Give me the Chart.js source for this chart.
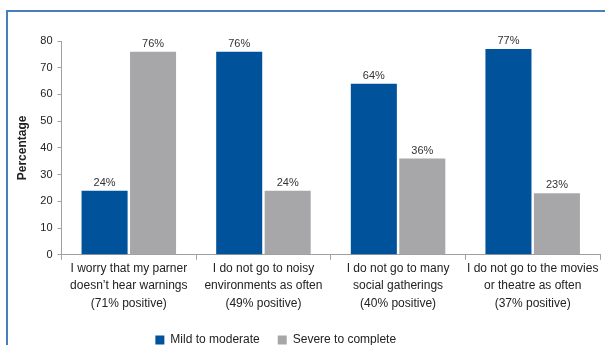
<!DOCTYPE html>
<html>
<head>
<meta charset="utf-8">
<script src="https://cdn.jsdelivr.net/npm/chart.js@4/dist/chart.umd.min.js"></script>
<style>
  html, body { margin: 0; padding: 0; background: #fff; }
  #wrap { position: relative; width: 605px; height: 345px; }
  #frame {
    position: absolute; left: 6px; top: 10px; right: 0; bottom: 0;
    border-left: 2px solid #4a7ebb; border-top: 2px solid #4a7ebb;
    pointer-events: none;
  }
  canvas { position: absolute; left: 0; top: 0; }
</style>
</head>
<body>
<div id="wrap">
  <canvas id="data-chart" width="605" height="345"></canvas>
  <div id="frame"></div>
</div>
<script>
const ctx = document.getElementById('data-chart');

// categories (multi-line labels)
const categories = [
  ["I worry that my parner", "doesn\u2019t hear warnings", "(71% positive)"],
  ["I do not go to noisy", "environments as often", "(49% positive)"],
  ["I do not go to many", "social gatherings", "(40% positive)"],
  ["I do not go to the movies", "or theatre as often", "(37% positive)"]
];
const mildModerate = [24, 76, 64, 77];
const severeComplete = [76, 24, 36, 23];
const yTicks = [0, 10, 20, 30, 40, 50, 60, 70, 80];

// draws the "xx%" text over each bar
const barLabels = {
  id: 'barLabels',
  afterDatasetsDraw(chart) {
    const c = chart.ctx;
    c.save();
    c.font = '11px "Liberation Sans", Arial, sans-serif';
    c.fillStyle = '#333';
    c.textAlign = 'center';
    c.textBaseline = 'alphabetic';
    chart.data.datasets.forEach((ds, i) => {
      chart.getDatasetMeta(i).data.forEach((bar, j) => {
        c.fillText(ds.data[j] + '%', bar.x, bar.y - 5);
      });
    });
    c.restore();
  }
};

// legend in the original sits a bit left of centre
const legendShift = {
  id: 'legendShift',
  afterLayout(chart) {
    chart.legend.left -= 27;
    chart.legend.right -= 27;
  }
};

Chart.defaults.font.family = '"Liberation Sans", Arial, sans-serif';
Chart.defaults.color = '#222';

new Chart(ctx, {
  type: 'bar',
  data: {
    labels: categories,
    datasets: [{
      label: 'Mild to moderate',
      data: mildModerate,
      backgroundColor: '#00529b',
      barPercentage: 0.95,
      categoryPercentage: 0.72
    }, {
      label: 'Severe to complete',
      data: severeComplete,
      backgroundColor: '#a7a7a9',
      barPercentage: 0.95,
      categoryPercentage: 0.72
    }]
  },
  options: {
    responsive: false,
    animation: false,
    layout: { padding: { left: 5.5, right: 5, top: 41, bottom: -11 } },
    plugins: {
      legend: {
        position: 'bottom',
        labels: { boxWidth: 9, boxHeight: 9, padding: 18, font: { size: 12 }, color: '#222' }
      },
      tooltip: { enabled: false }
    },
    scales: {
      x: {
        afterFit(scale) {
          scale.height += 4;
          scale.paddingLeft = 0;
          scale.paddingRight = 0;
        },
        grid: { offset: true, drawOnChartArea: false, color: '#a0a0a0', tickLength: 5 },
        border: { color: '#a0a0a0' },
        ticks: { font: { size: 12, lineHeight: 1.45 }, color: '#222', maxRotation: 0, autoSkip: false, padding: 0 }
      },
      y: {
        min: 0, max: 80,
        afterBuildTicks(axis) { axis.ticks = yTicks.map(v => ({ value: v })); },
        afterFit(scale) { scale.width = 56; },
        grid: { drawOnChartArea: false, color: '#a0a0a0', tickLength: 4 },
        border: { color: '#a0a0a0' },
        ticks: { font: { size: 11 }, color: '#222', padding: 5 },
        title: { display: true, text: 'Percentage', font: { size: 12, weight: 'bold' }, color: '#222', padding: { top: 10, bottom: 0 } }
      }
    }
  },
  plugins: [barLabels, legendShift]
});
</script>
</body>
</html>
